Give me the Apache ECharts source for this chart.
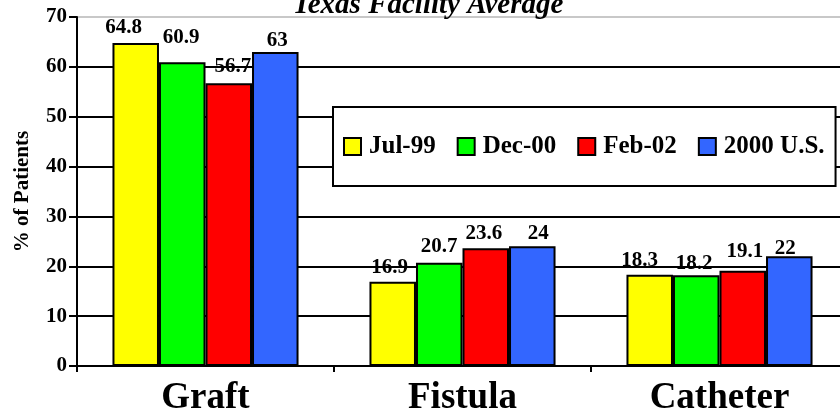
<!DOCTYPE html>
<html>
<head>
<meta charset="utf-8">
<script src="https://cdn.jsdelivr.net/npm/echarts@6/dist/echarts.min.js"></script>
<style>
  html, body { margin: 0; padding: 0; background: #fff; }
  #chart { width: 840px; height: 420px; }
</style>
</head>
<body>
<div id="chart"></div>
<script>
// Access type shares by survey period
const categories = ['Graft', 'Fistula', 'Catheter'];
const seriesNames = ['Jul-99', 'Dec-00', 'Feb-02', '2000 U.S.'];
const jul99 = [64.8, 16.9, 18.3];
const dec00 = [60.9, 20.7, 18.2];
const feb02 = [56.7, 23.6, 19.1];
const us2000 = [63, 24, 22];
const yTicks = [0, 10, 20, 30, 40, 50, 60, 70];

// Hand-placed nudges for the value labels, [dx, dy] in pixels per bar
const labelNudges = [
  [[-12, -1], [-3, 0], [-10, 0]],
  [[-1, -10], [0, -2], [-2, 3]],
  [[4, -2], [-2, 0], [2, -5]],
  [[2, 3], [6, 2], [-4, 7]]
];

const seriesValues = [jul99, dec00, feb02, us2000];
const colors = ['#ffff00', '#00ff00', '#ff0000', '#3366ff'];
const serif = '"Liberation Serif", "DejaVu Serif", serif';

const chart = echarts.init(document.getElementById('chart'));

chart.setOption({
  animation: false,
  backgroundColor: '#fff',
  title: {
    text: 'Texas Facility Average',
    left: 428,
    textAlign: 'center',
    top: -9,
    padding: 0,
    textStyle: {
      fontFamily: serif, fontStyle: 'italic', fontWeight: 'bold',
      fontSize: 29, color: '#000'
    }
  },
  legend: {
    data: seriesNames,
    left: 333,
    top: 107,
    orient: 'horizontal',
    backgroundColor: '#fff',
    borderColor: '#000',
    borderWidth: 2,
    borderRadius: 0,
    padding: [27, 11, 27, 10],
    itemGap: 21,
    itemWidth: 17,
    itemHeight: 17,
    icon: 'rect',
    itemStyle: { borderColor: '#000', borderWidth: 2 },
    textStyle: {
      fontFamily: serif, fontWeight: 'bold', fontSize: 25, color: '#000',
      padding: [0, 0, 0, 3]
    }
  },
  grid: {
    left: 77, right: -8, top: 17, bottom: 54,
    containLabel: false,
    outerBoundsMode: 'none'
  },
  xAxis: {
    type: 'category',
    data: categories,
    axisLine: { lineStyle: { color: '#000', width: 2 } },
    axisTick: { show: true, length: 6, lineStyle: { color: '#000', width: 2 } },
    axisLabel: {
      margin: 14,
      fontFamily: serif, fontWeight: 'bold', fontSize: 37, color: '#000'
    }
  },
  yAxis: {
    type: 'value',
    min: yTicks[0],
    max: yTicks[yTicks.length - 1],
    interval: 10,
    name: '% of Patients',
    nameLocation: 'middle',
    nameGap: 44,
    nameRotate: 90,
    nameTextStyle: { fontFamily: serif, fontWeight: 'bold', fontSize: 21, color: '#000' },
    axisLine: { show: true, lineStyle: { color: '#000', width: 2 } },
    axisTick: { show: true, length: 8, lineStyle: { color: '#000', width: 2 } },
    axisLabel: {
      margin: 10,
      fontFamily: serif, fontWeight: 'bold', fontSize: 21, color: '#000'
    },
    splitLine: {
      show: true,
      lineStyle: {
        color: ['#000', '#000', '#000', '#000', '#000', '#000', '#000', '#c8c8c8'],
        width: 2
      }
    }
  },
  series: seriesNames.map((name, i) => ({
    name: name,
    type: 'bar',
    data: seriesValues[i].map((v, j) => ({
      value: v,
      label: { offset: labelNudges[i][j] }
    })),
    barGap: '0%',
    barCategoryGap: '27.6%',
    itemStyle: { color: colors[i], borderColor: '#000', borderWidth: 2 },
    label: {
      show: true,
      position: 'top',
      distance: 4,
      fontFamily: serif, fontWeight: 'bold', fontSize: 21, color: '#000'
    }
  }))
});
</script>
</body>
</html>
